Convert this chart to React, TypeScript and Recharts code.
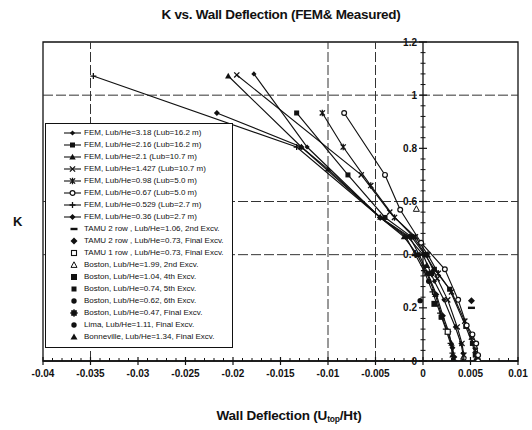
import React from 'react';
import { ScatterChart, Scatter, XAxis, YAxis, ReferenceLine, ReferenceDot, ReferenceArea } from 'recharts';

// ---------- axis ticks ----------
const xTickValues = [-0.04, -0.035, -0.03, -0.025, -0.02, -0.015, -0.01, -0.005, 0, 0.005, 0.01];
const xTickLabels = ['-0.04', '-0.035', '-0.03', '-0.025', '-0.02', '-0.015', '-0.01', '-0.005', '0', '0.005', '0.01'];
const yTickValues = [0, 0.2, 0.4, 0.6, 0.8, 1, 1.2];
const yTickLabels = ['0', '0.2', '0.4', '0.6', '0.8', '1', '1.2'];
const xMinorTicks = Array.from({ length: 51 }, (_, i) => i).filter((i) => i % 5 !== 0).map((i) => -0.04 + i * 0.001);
const yMinorTicks = Array.from({ length: 31 }, (_, i) => i).filter((i) => i % 5 !== 0).map((i) => i * 0.04);
const gridXValues = [-0.035, -0.01, -0.005];
const gridYValues = [0.4, 0.6, 1.0];

// ---------- FEM series: [wall deflection, K] ----------
const fem318: [number, number][] = [
  [-0.0178, 1.08], [-0.0122, 0.805], [-0.0045, 0.54], [-0.0016, 0.467], [0.0, 0.4], [0.0012, 0.3],
  [0.0022, 0.23], [0.0034, 0.128], [0.004, 0.066], [0.0042, 0.029], [0.0042, 0.0],
];
const fem216: [number, number][] = [
  [-0.0133, 0.933], [-0.0079, 0.7], [-0.004, 0.54], [-0.0012, 0.467], [0.0002, 0.4], [0.0012, 0.345],
  [0.0028, 0.27], [0.0045, 0.13], [0.0052, 0.066], [0.0055, 0.022], [0.0056, 0.0],
];
const fem21: [number, number][] = [
  [-0.0205, 1.072], [-0.0128, 0.805], [-0.01, 0.722], [-0.0045, 0.54], [-0.002, 0.467], [-0.0006, 0.4],
  [0.0004, 0.33], [0.0013, 0.25], [0.002, 0.165], [0.0026, 0.11], [0.003, 0.066], [0.0031, 0.022], [0.0031, 0.0],
];
const fem1427: [number, number][] = [
  [-0.0196, 1.076], [-0.0065, 0.7], [-0.0035, 0.56], [-0.001, 0.467], [0.0003, 0.4], [0.0015, 0.31],
  [0.0026, 0.23], [0.0036, 0.128], [0.0041, 0.066], [0.0043, 0.022], [0.0043, 0.0],
];
const fem098: [number, number][] = [
  [-0.0106, 0.933], [-0.0084, 0.805], [-0.0055, 0.66], [-0.003, 0.54], [-0.0008, 0.467], [0.0005, 0.4],
  [0.0016, 0.33], [0.003, 0.26], [0.0044, 0.15], [0.0051, 0.09], [0.0055, 0.04], [0.0057, 0.0],
];
const fem067: [number, number][] = [
  [-0.0083, 0.933], [-0.004, 0.7], [-0.0024, 0.569], [-0.0002, 0.445], [0.0023, 0.345], [0.0037, 0.23],
  [0.0046, 0.134], [0.0052, 0.1], [0.0056, 0.066], [0.0058, 0.022], [0.0058, 0.0],
];
const fem0529: [number, number][] = [
  [-0.0347, 1.072], [-0.0133, 0.805], [-0.0045, 0.54], [-0.0018, 0.467], [-0.0008, 0.4], [0.0001, 0.34],
  [0.001, 0.26], [0.0018, 0.18], [0.0024, 0.12], [0.0029, 0.066], [0.0031, 0.03], [0.0032, 0.0],
];
const fem036: [number, number][] = [
  [-0.0217, 0.933], [-0.0128, 0.805], [-0.0045, 0.54], [-0.0014, 0.467], [-0.0004, 0.4], [0.0005, 0.33],
  [0.0014, 0.25], [0.0021, 0.17], [0.0027, 0.11], [0.0031, 0.05], [0.0033, 0.015], [0.0033, 0.0],
];

// ---------- measured cases ----------
const tamu2row106: [number, number][] = [[0.0051, 0.2]];
const tamu2row073: [number, number][] = [[0.0051, 0.227]];
const tamu1row073: [number, number][] = [[0.0026, 0.11]];
const boston199: [number, number][] = [[-0.0007, 0.572]];
const boston104: [number, number][] = [[0.0012, 0.215]];
const boston074: [number, number][] = [[0.0019, 0.165]];
const boston062: [number, number][] = [[0.0006, 0.3]];
const boston047: [number, number][] = [[0.0009, 0.33]];
const lima111: [number, number][] = [[-0.0003, 0.227]];
const bonneville134: [number, number][] = [[0.0004, 0.36]];

const femNames = [
  'FEM, Lub/He=3.18 (Lub=16.2 m)', 'FEM, Lub/He=2.16 (Lub=16.2 m)', 'FEM, Lub/He=2.1 (Lub=10.7 m)',
  'FEM, Lub/He=1.427 (Lub=10.7 m)', 'FEM, Lub/He=0.98 (Lub=5.0 m)', 'FEM, Lub/He=0.67 (Lub=5.0 m)',
  'FEM, Lub/He=0.529 (Lub=2.7 m)', 'FEM, Lub/He=0.36 (Lub=2.7 m)',
];
const measuredNames = [
  'TAMU 2 row , Lub/He=1.06, 2nd Excv.', 'TAMU 2 row , Lub/He=0.73, Final Excv.', 'TAMU 1 row , Lub/He=0.73, Final Excv.',
  'Boston, Lub/He=1.99, 2nd Excv.', 'Boston, Lub/He=1.04, 4th Excv.', 'Boston, Lub/He=0.74, 5th Excv.',
  'Boston, Lub/He=0.62, 6th Excv.', 'Boston, Lub/He=0.47, Final Excv.', 'Lima, Lub/He=1.11, Final Excv.',
  'Bonneville, Lub/He=1.34, Final Excv.',
];

const femSeries = [fem318, fem216, fem21, fem1427, fem098, fem067, fem0529, fem036];
const femMarkers = ['dSmall', 'sq', 'tri', 'x', 'star', 'circ', 'plus', 'diamond'];
const measuredSeries = [tamu2row106, tamu2row073, tamu1row073, boston199, boston104, boston074, boston062, boston047, lima111, bonneville134];
const measuredMarkers = ['dash', 'dFilled', 'sqOpen', 'triOpen', 'sqBig', 'sq', 'circFilled', 'sqStar', 'circFilled', 'triFilled'];

const INK = '#111';
const FONT = '"Liberation Sans", Arial, sans-serif';

function marker(kind: string, cx: number, cy: number) {
  switch (kind) {
    case 'dSmall':
      return <path d={`M${cx},${cy - 2.6}L${cx + 2.6},${cy}L${cx},${cy + 2.6}L${cx - 2.6},${cy}Z`} fill={INK} />;
    case 'diamond':
      return <path d={`M${cx},${cy - 3}L${cx + 3},${cy}L${cx},${cy + 3}L${cx - 3},${cy}Z`} fill={INK} />;
    case 'dFilled':
      return <path d={`M${cx},${cy - 3.5}L${cx + 3.5},${cy}L${cx},${cy + 3.5}L${cx - 3.5},${cy}Z`} fill={INK} />;
    case 'sq':
      return <rect x={cx - 2.5} y={cy - 2.5} width={5} height={5} fill={INK} />;
    case 'sqBig':
      return <rect x={cx - 3} y={cy - 3} width={6} height={6} fill={INK} />;
    case 'sqOpen':
      return <rect x={cx - 2.5} y={cy - 2.5} width={5} height={5} fill="#fff" stroke={INK} strokeWidth={1.1} />;
    case 'sqStar':
      return (
        <g>
          <rect x={cx - 2.8} y={cy - 2.8} width={5.6} height={5.6} fill={INK} />
          <path d={`M${cx - 4},${cy}L${cx + 4},${cy}M${cx},${cy - 4}L${cx},${cy + 4}`} stroke={INK} strokeWidth={1} />
        </g>
      );
    case 'tri':
      return <path d={`M${cx},${cy - 3.2}L${cx + 3.2},${cy + 2.4}L${cx - 3.2},${cy + 2.4}Z`} fill={INK} />;
    case 'triFilled':
      return <path d={`M${cx},${cy - 3.5}L${cx + 3.5},${cy + 2.6}L${cx - 3.5},${cy + 2.6}Z`} fill={INK} />;
    case 'triOpen':
      return <path d={`M${cx},${cy - 3.2}L${cx + 3},${cy + 2.4}L${cx - 3},${cy + 2.4}Z`} fill="#fff" stroke={INK} strokeWidth={1} />;
    case 'x':
      return <path d={`M${cx - 2.6},${cy - 2.6}L${cx + 2.6},${cy + 2.6}M${cx + 2.6},${cy - 2.6}L${cx - 2.6},${cy + 2.6}`} stroke={INK} strokeWidth={1.3} />;
    case 'star':
      return (
        <path
          d={`M${cx - 2.6},${cy - 2.6}L${cx + 2.6},${cy + 2.6}M${cx + 2.6},${cy - 2.6}L${cx - 2.6},${cy + 2.6}M${cx},${cy - 3.2}L${cx},${cy + 3.2}`}
          stroke={INK}
          strokeWidth={1.3}
        />
      );
    case 'plus':
      return <path d={`M${cx - 3},${cy}L${cx + 3},${cy}M${cx},${cy - 3}L${cx},${cy + 3}`} stroke={INK} strokeWidth={1.3} />;
    case 'circ':
      return <circle cx={cx} cy={cy} r={2.4} fill="#fff" stroke={INK} strokeWidth={1.2} />;
    case 'circFilled':
      return <circle cx={cx} cy={cy} r={2.7} fill={INK} />;
    case 'dash':
      return <rect x={cx - 3.5} y={cy - 1.2} width={7} height={2.4} fill={INK} />;
    default:
      return <circle cx={cx} cy={cy} r={2} fill={INK} />;
  }
}

const shapeFor = (kind: string) => (props: any) => {
  const { cx, cy } = props;
  if (cx == null || cy == null) return <g />;
  return marker(kind, cx, cy);
};

const toData = (arr: [number, number][]) => arr.map(([x, y]) => ({ x, y }));

function Legend() {
  const rows: { name: string; kind: string; fem: boolean }[] = [
    ...femNames.map((n, i) => ({ name: n, kind: femMarkers[i], fem: true })),
    ...measuredNames.map((n, i) => ({ name: n, kind: measuredMarkers[i], fem: false })),
  ];
  return (
    <div
      style={{
        position: 'absolute', left: 45, top: 123, width: 188, height: 225, boxSizing: 'border-box',
        border: '1px solid #111', background: '#fff', paddingTop: 3, fontFamily: FONT, fontSize: 8, color: '#111',
      }}
    >
      {rows.map((r, i) => (
        <div key={i} style={{ position: 'relative', height: 12, lineHeight: '12px', whiteSpace: 'nowrap' }}>
          <svg width={22} height={12} style={{ position: 'absolute', left: 16, top: 0 }}>
            {r.fem ? <line x1={2} y1={6} x2={19} y2={6} stroke={INK} strokeWidth={1.1} /> : null}
            {marker(r.kind, r.fem ? 10.5 : 12, 6)}
          </svg>
          <span style={{ position: 'absolute', left: 38, top: 0 }}>{r.name}</span>
        </div>
      ))}
    </div>
  );
}

const xTickLabelFor = (v: number) => {
  const i = xTickValues.findIndex((t) => Math.abs(t - v) < 1e-9);
  return i >= 0 ? xTickLabels[i] : '';
};

export default function App() {
  return (
    <div style={{ position: 'absolute', left: 0, top: 0, width: 532, height: 430, background: '#fff', overflow: 'hidden' }}>
      <ScatterChart width={532} height={430} margin={{ top: 42, right: 14, bottom: 39, left: 43 }}>
        <XAxis
          type="number"
          dataKey="x"
          domain={[-0.04, 0.01]}
          ticks={xTickValues}
          tickFormatter={xTickLabelFor}
          allowDataOverflow
          height={30}
          axisLine={{ stroke: INK, strokeWidth: 1.3 }}
          tickLine={false}
          tickSize={7}
          tickMargin={2}
          tick={{ fill: INK, fontSize: 10, fontWeight: 700, fontFamily: FONT }}
          interval={0}
        />
        <YAxis type="number" dataKey="y" domain={[0, 1.2]} allowDataOverflow hide />
        {gridYValues.map((v) => (
          <ReferenceLine key={'gy' + v} y={v} stroke="#333" strokeWidth={1} strokeDasharray="10 3" ifOverflow="visible" />
        ))}
        {gridXValues.map((v) => (
          <ReferenceLine key={'gx' + v} x={v} stroke="#333" strokeWidth={1} strokeDasharray="10 3" ifOverflow="visible" />
        ))}
        <ReferenceArea x1={-0.04} x2={0.01} y1={0} y2={1.2} fill="none" fillOpacity={0} stroke={INK} strokeWidth={1.3} ifOverflow="visible" />
        <ReferenceLine x={0} stroke={INK} strokeWidth={1.3} ifOverflow="visible" />
        {yMinorTicks.map((v) => (
          <ReferenceDot
            key={'ym' + v}
            x={0}
            y={v}
            r={1}
            ifOverflow="visible"
            shape={(p: any) => <line x1={p.cx - 2.5} x2={p.cx + 2.5} y1={p.cy} y2={p.cy} stroke={INK} strokeWidth={1} />}
          />
        ))}
        {yTickValues.map((v, i) => (
          <ReferenceDot
            key={'yM' + v}
            x={0}
            y={v}
            r={1}
            ifOverflow="visible"
            shape={(p: any) => (
              <g>
                <line x1={p.cx - 4} x2={p.cx + 4} y1={p.cy} y2={p.cy} stroke={INK} strokeWidth={1.2} />
                <text x={p.cx - 6} y={p.cy + 3.5} textAnchor="end" fontSize={10} fontWeight={700} fontFamily={FONT} fill={INK}>
                  {yTickLabels[i]}
                </text>
              </g>
            )}
          />
        ))}
        {xMinorTicks.map((v) => (
          <ReferenceDot
            key={'xm' + v}
            x={v}
            y={0}
            r={1}
            ifOverflow="visible"
            shape={(p: any) => <line x1={p.cx} x2={p.cx} y1={p.cy - 3} y2={p.cy} stroke={INK} strokeWidth={1} />}
          />
        ))}
        {xTickValues.map((v) => (
          <ReferenceDot
            key={'xM' + v}
            x={v}
            y={0}
            r={1}
            ifOverflow="visible"
            shape={(p: any) => <line x1={p.cx} x2={p.cx} y1={p.cy - 4} y2={p.cy + 4} stroke={INK} strokeWidth={1.2} />}
          />
        ))}
        {femSeries.map((s, i) => (
          <Scatter
            key={'fem' + i}
            name={femNames[i]}
            data={toData(s)}
            line={{ stroke: INK, strokeWidth: 1.15 }}
            lineType="joint"
            shape={shapeFor(femMarkers[i])}
            isAnimationActive={false}
          />
        ))}
        {measuredSeries.map((s, i) => (
          <Scatter
            key={'meas' + i}
            name={measuredNames[i]}
            data={toData(s)}
            shape={shapeFor(measuredMarkers[i])}
            isAnimationActive={false}
          />
        ))}
      </ScatterChart>
      <Legend />
      <div
        style={{
          position: 'absolute', left: 131, width: 300, top: 7, textAlign: 'center', fontFamily: FONT,
          fontSize: 13.5, fontWeight: 700, color: INK, letterSpacing: -0.3,
        }}
      >
        K vs. Wall Deflection (FEM&amp; Measured)
      </div>
      <div
        style={{
          position: 'absolute', left: 139, width: 300, top: 408, textAlign: 'center', fontFamily: FONT,
          fontSize: 13.5, fontWeight: 700, color: INK, letterSpacing: -0.2,
        }}
      >
        Wall Deflection (U<span style={{ fontSize: 8.5, verticalAlign: -2 }}>top</span>/Ht)
      </div>
      <div style={{ position: 'absolute', left: 13, top: 214, fontFamily: FONT, fontSize: 13, fontWeight: 700, color: INK }}>K</div>
    </div>
  );
}
